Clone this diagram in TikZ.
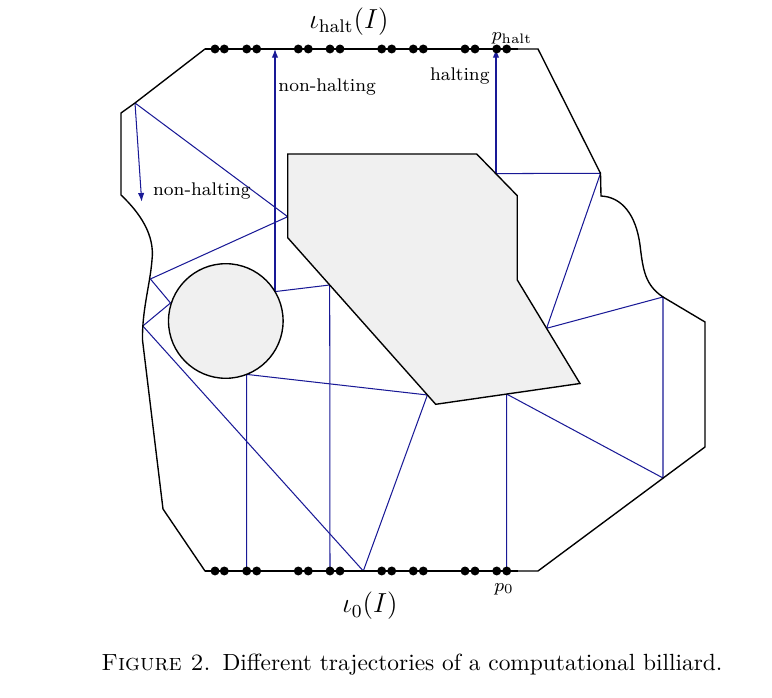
\documentclass[tikz,border=0pt]{standalone}
\usetikzlibrary{arrows.meta}
\definecolor{traj}{RGB}{25,25,150}
\definecolor{obst}{RGB}{240,240,240}
\begin{document}
\begin{tikzpicture}[x=0.436pt,y=-0.436pt,
  wall/.style={line width=0.6pt, black, line join=miter},
  obstacle/.style={line width=0.6pt, draw=black, fill=obst},
  path/.style={line width=0.45pt, traj},
  arr/.style={path, -{Latex[length=3.8pt,width=2.8pt]}},
  rail/.style={line width=1.2pt, black},
  dot/.style={circle, fill=black, inner sep=0pt, minimum size=3.9pt},
  lbl/.style={inner sep=0pt, font=\footnotesize}]
\useasboundingbox (0,0) rectangle (772,698);
% trajectory points
\coordinate (a0) at (330,571);
\coordinate (a1) at (329.7,285);
\coordinate (a2) at (275,291.6);
\coordinate (a3) at (275,49);
\coordinate (b0) at (506.7,571);
\coordinate (b1) at (506.7,394.1);
\coordinate (b2) at (663,478);
\coordinate (b3) at (663,297);
\coordinate (b4) at (546.6,328.3);
\coordinate (b5) at (600.5,173.3);
\coordinate (b6) at (496,173.6);
\coordinate (b7) at (496,49);
\coordinate (c0) at (246.7,571);
\coordinate (c1) at (246.7,374.4);
\coordinate (c2) at (427.4,395);
\coordinate (c3) at (363.3,571);
\coordinate (c4) at (142.8,326);
\coordinate (c5) at (170.5,303);
\coordinate (c6) at (150.4,279);
\coordinate (c7) at (287.7,216.7);
\coordinate (c8) at (135,103);
\coordinate (c9) at (141.7,201.7);
% trajectories
\draw[path] (a0) -- (a1) -- (a2);
\draw[arr] (a2) -- (a3);
\draw[path] (b0) -- (b1) -- (b2) -- (b3) -- (b4) -- (b5) -- (b6);
\draw[arr] (b6) -- (b7);
\draw[path] (c0) -- (c1) -- (c2) -- (c3) -- (c4) -- (c5) -- (c6) -- (c7) -- (c8);
\draw[arr] (c8) -- (c9);
% billiard table
\draw[wall] (205,49) -- (135,103) -- (121,113) -- (121,195)
  .. controls (140,213) and (155,235) .. (152,260)
  .. controls (150,285) and (142,310) .. (142.5,340)
  -- (163,509) -- (205,571) -- (538,571) -- (705,447) -- (705,322) -- (663,297)
  .. controls (645,285) and (643,270) .. (640,245)
  .. controls (636,215) and (622,197) .. (601,196)
  -- (600.5,173.3) -- (538,49) -- cycle;
% obstacles
\draw[obstacle] (225.8,321) circle[radius=57.3];
\draw[obstacle] (287.7,154) -- (476.7,154) -- (517.3,195.7) -- (517.3,280) -- (580,383.5) -- (435.7,404.3) -- (287.7,237.7) -- cycle;
% rails with dots
\draw[rail] (205,49) -- (518,49);
\draw[rail] (205,571) -- (518,571);
\foreach \x [count=\i] in {215,224.3,246.7,256.7,298.3,308.3,330,340,381.7,391.7,413.3,423.3,465,475,496.7,506.7} {
  \node[dot] (t\i) at (\x,49) {};
  \node[dot] (u\i) at (\x,571) {};
}
% labels
\node[inner sep=0pt, font=\large] (ltop) at (349,22) {$\iota_{\mathrm{halt}}(I)$};
\node[inner sep=0pt, font=\large] (lbot) at (370,606) {$\iota_{0}(I)$};
\node[lbl] (lph) at (512,38) {$p_{\mathrm{halt}}$};
\node[lbl] (lp0) at (504,589) {$p_{0}$};
\node[lbl, anchor=west] (lnh1) at (278,87) {non-halting};
\node[lbl, anchor=east] (lh) at (490,76) {halting};
\node[lbl, anchor=west] (lnh2) at (152.7,191) {non-halting};
\node[inner sep=0pt, anchor=base west, font=\fontsize{10.2}{12.5}\selectfont] (cap) at (101,671) {\textsc{Figure 2.}\hspace{0.5em}Different trajectories of a computational billiard.};
\end{tikzpicture}
\end{document}
